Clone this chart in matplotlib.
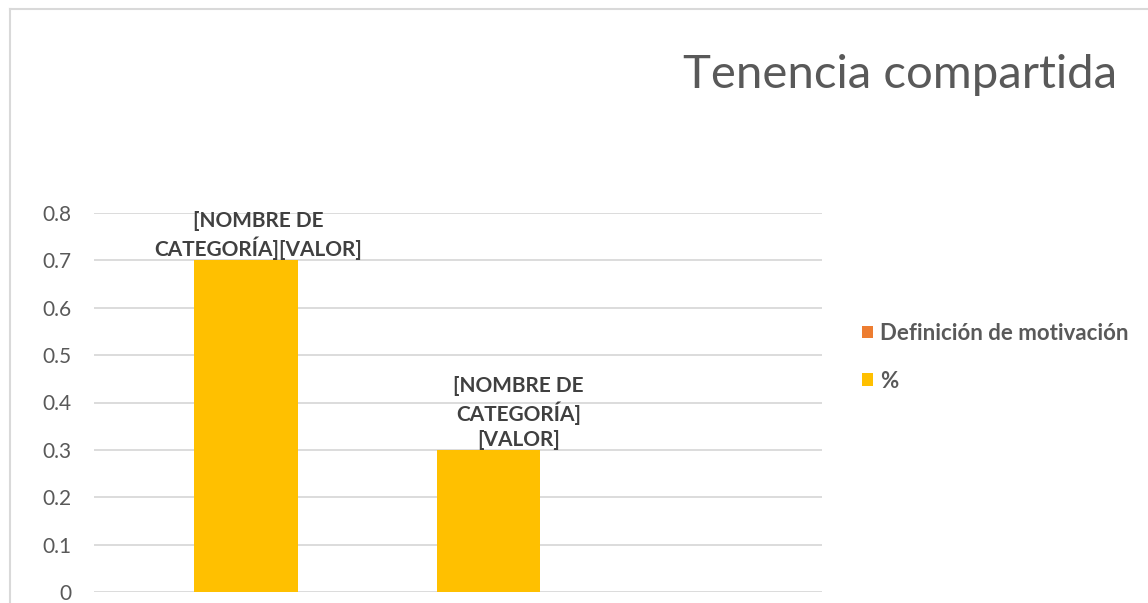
import matplotlib.pyplot as plt
from matplotlib.lines import Line2D
from matplotlib.patches import Patch

# Chart data
categories = ['Cat 1', 'Cat 2', 'Cat 3']
motivacion = [0, 0, 0]
porcentaje = [0.7, 0.3, 0]
series_names = ['Definición de motivación', '%']
bar_labels = ['[NOMBRE DE\nCATEGORÍA][VALOR]', '[NOMBRE DE\nCATEGORÍA]\n[VALOR]']
yticks = [0, 0.1, 0.2, 0.3, 0.4, 0.5, 0.6, 0.7, 0.8]

plt.rcParams['font.family'] = ['Lato', 'DejaVu Sans']

fig = plt.figure(figsize=(11.48, 6.03), dpi=100)
ax = fig.add_axes([94 / 1148, 1 - 592 / 603, 728 / 1148, 379 / 603])

x = list(range(len(categories)))
width = 0.427
ax.bar([i + 0.126 for i in x], porcentaje, width=width, color='#FFC000', zorder=3)

# data labels (slightly right of bar centre, like the original)
label_shift = [12, 30]
for i, txt in enumerate(bar_labels):
    ax.annotate(txt, xy=(x[i] + 0.126, porcentaje[i]),
                xytext=(label_shift[i] * 0.72, 0), textcoords='offset points',
                ha='center', va='bottom', fontsize=15, fontweight='bold',
                color='#404040', linespacing=1.3, annotation_clip=False, zorder=4)

ax.set_xlim(-0.5, 2.5)
ax.set_ylim(0, 0.8)
ax.set_yticks(yticks)
ax.set_yticklabels([f'{v:g}' for v in yticks])
ax.set_xticks([])
ax.tick_params(axis='y', length=0, labelsize=15, labelcolor='#595959', pad=16)
for s in ax.spines.values():
    s.set_visible(False)
ax.grid(axis='y', color='#D9D9D9', lw=1.3, zorder=0)

# title
fig.text(1117 / 1148, 1 - 88 / 603, 'Tenencia compartida', ha='right', va='baseline',
         fontsize=34, color='#595959')

# legend
handles = [Patch(facecolor='#ED7D31', edgecolor='none'),
           Patch(facecolor='#FFC000', edgecolor='none')]
leg = fig.legend(handles, series_names, loc='upper left',
                 bbox_to_anchor=(842 / 1148, 1 - 303 / 603), frameon=False,
                 handlelength=0.5, handleheight=0.5, handletextpad=0.32,
                 labelspacing=1.2, prop={'size': 16, 'weight': 'bold'})
for t in leg.get_texts():
    t.set_color('#595959')

# chart border (left and top edges visible)
fig.add_artist(Line2D([10 / 1148, 10 / 1148], [0, 1 - 9 / 603], color='#D9D9D9', lw=1.5))
fig.add_artist(Line2D([10 / 1148, 1], [1 - 9 / 603, 1 - 9 / 603], color='#D9D9D9', lw=1.5))

fig.savefig('out.png', dpi=100)
